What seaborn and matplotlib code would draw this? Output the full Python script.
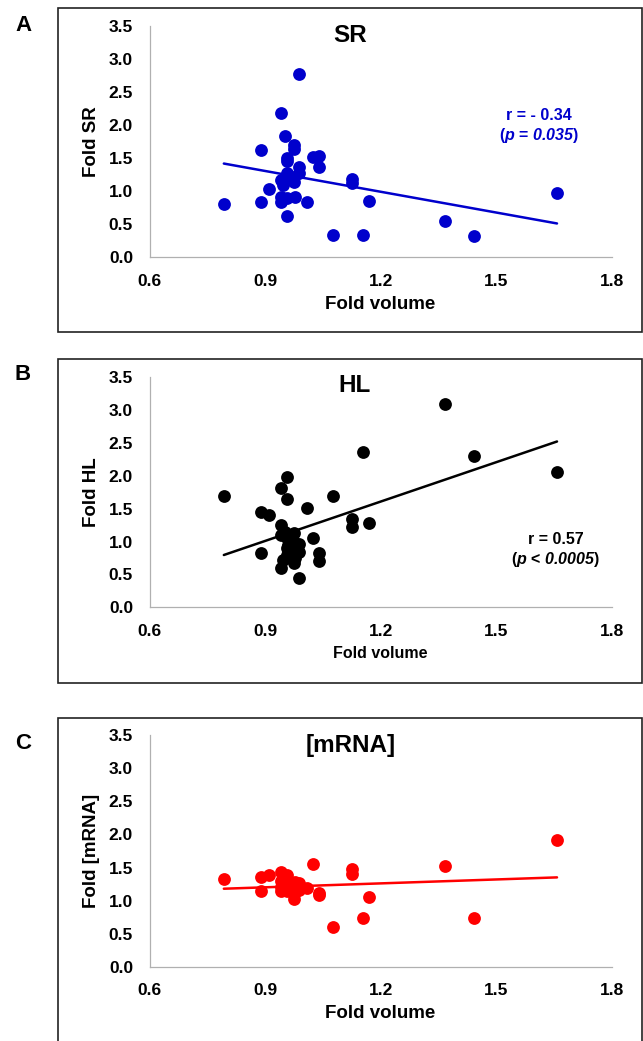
import numpy as np
import pandas as pd
import seaborn as sns
import matplotlib.pyplot as plt
from matplotlib.patches import Rectangle

sns.set_style("white")
plt.rcParams['font.family'] = 'Liberation Sans'
plt.rcParams['text.color'] = 'black'
plt.rcParams['axes.labelcolor'] = 'black'
plt.rcParams['mathtext.fontset'] = 'custom'
# only the p-value annotations use mathtext: everything italic bold
plt.rcParams['mathtext.it'] = 'Liberation Sans:italic:bold'
plt.rcParams['mathtext.rm'] = 'Liberation Sans:italic:bold'

# Data
fold_volume = [0.793, 0.890, 0.890, 0.910, 0.942, 0.942, 0.942, 0.942, 0.946, 0.951,
               0.957, 0.957, 0.957, 0.957, 0.957, 0.960, 0.974, 0.974, 0.974, 0.974,
               0.978, 0.989, 0.989, 0.989, 1.010, 1.025, 1.040, 1.040, 1.076, 1.125,
               1.125, 1.155, 1.170, 1.367, 1.442, 1.658]
fold_sr = [0.81, 1.63, 0.84, 1.04, 2.18, 1.17, 0.92, 0.84, 1.09, 1.83,
           1.50, 1.45, 1.27, 0.90, 0.62, 1.20, 1.70, 1.64, 1.22, 1.14,
           0.92, 2.77, 1.37, 1.28, 0.84, 1.52, 1.53, 1.37, 0.34, 1.18,
           1.12, 0.33, 0.85, 0.545, 0.32, 0.97]
fold_hl = [1.70, 1.45, 0.83, 1.41, 1.81, 1.25, 1.10, 0.60, 0.72, 1.15,
           1.98, 1.65, 1.05, 0.90, 0.80, 0.95, 1.13, 1.00, 0.85, 0.68,
           0.75, 0.96, 0.84, 0.44, 1.51, 1.05, 0.82, 0.71, 1.70, 1.35,
           1.22, 2.36, 1.28, 3.10, 2.30, 2.06]
fold_mrna = [1.33, 1.35, 1.14, 1.39, 1.43, 1.29, 1.14, 1.20, 1.25, 1.35,
             1.38, 1.21, 1.15, 1.30, 1.18, 1.24, 1.21, 1.03, 1.10, 1.16,
             1.28, 1.26, 1.16, 1.22, 1.19, 1.56, 1.11, 1.09, 0.60, 1.48,
             1.40, 0.73, 1.06, 1.52, 0.73, 1.91]

x_ticks = [0.6, 0.9, 1.2, 1.5, 1.8]
y_ticks = [0.0, 0.5, 1.0, 1.5, 2.0, 2.5, 3.0, 3.5]

df = pd.DataFrame({"volume": fold_volume, "SR": fold_sr, "HL": fold_hl, "mRNA": fold_mrna})

W, H = 643, 1041
fig = plt.figure(figsize=(W / 100, H / 100), dpi=100)


def frac(x0, y0, x1, y1):
    return [x0 / W, 1 - y1 / H, (x1 - x0) / W, (y1 - y0) / H]


panels = [
    dict(letter="A", col="SR", title="SR", ylabel="Fold SR", color="#0000CC",
         box=(57.8, 8.3, 642, 331.7), axpos=(149.5, 26.0, 611.7, 257.3), letter_y=25.3,
         title_xy=(1.12, 3.36), xlabel_size=13.5,
         stats=["r = - 0.34", r"($p$ = $0.035$)"], stats_xy=(1.611, 2.14, 1.846)),
    dict(letter="B", col="HL", title="HL", ylabel="Fold HL", color="black",
         box=(57.8, 359.3, 642, 683.0), axpos=(149.5, 377.3, 611.7, 607.3), letter_y=375,
         title_xy=(1.133, 3.37), xlabel_size=11.5,
         stats=["r = 0.57", r"($p$ < $0.0005$)"], stats_xy=(1.654, 1.035, 0.73)),
    dict(letter="C", col="mRNA", title="[mRNA]", ylabel="Fold [mRNA]", color="#FF0000",
         box=(57.8, 718.0, 642, 1050), axpos=(149.5, 735.3, 611.7, 966.7), letter_y=743.3,
         title_xy=(1.122, 3.35), xlabel_size=13.5, stats=None, stats_xy=None),
]

for p in panels:
    # panel frame
    x0, y0, x1, y1 = p["box"]
    fig.patches.append(Rectangle((x0 / W, 1 - y1 / H), (x1 - x0) / W, (y1 - y0) / H,
                                 transform=fig.transFigure, fill=False,
                                 ec="#222222", lw=1.2))
    fig.text(23 / W, 1 - p["letter_y"] / H, p["letter"], fontsize=16,
             fontweight="bold", ha="center", va="center")

    ax = fig.add_axes(frac(*p["axpos"]))
    sns.regplot(data=df, x="volume", y=p["col"], ax=ax, ci=None, truncate=True,
                color=p["color"],
                scatter_kws=dict(s=85, linewidths=0, alpha=1),
                line_kws=dict(lw=1.8))

    ax.set_xlim(0.6, 1.8)
    ax.set_ylim(0, 3.5)
    ax.set_xticks(x_ticks)
    ax.set_yticks(y_ticks)
    ax.set_xticklabels([f"{t:.1f}" for t in x_ticks], fontweight="bold", fontsize=12.5)
    ax.set_yticklabels([f"{t:.1f}" for t in y_ticks], fontweight="bold", fontsize=12.5)
    for s in ["top", "right"]:
        ax.spines[s].set_visible(False)
    for s in ["left", "bottom"]:
        ax.spines[s].set_color("#b0b0b0")
        ax.spines[s].set_linewidth(0.9)
    ax.tick_params(axis="both", direction="out", width=0.9, length=4.3,
                   color="#b0b0b0", labelcolor="black")
    ax.tick_params(axis="x", pad=7.5)
    ax.tick_params(axis="y", pad=7.5)

    ax.set_xlabel("Fold volume", fontsize=p["xlabel_size"], fontweight="bold")
    ax.xaxis.label.set_va("center")
    ax.xaxis.set_label_coords(0.5, -0.202)
    ax.set_ylabel(p["ylabel"], fontsize=13.5, fontweight="bold")
    ax.yaxis.label.set_va("center")
    ax.yaxis.set_label_coords(-0.125, 0.5)

    ax.text(p["title_xy"][0], p["title_xy"][1], p["title"], fontsize=17.5,
            fontweight="bold", ha="center", va="center")

    if p["stats"]:
        sx, sy1, sy2 = p["stats_xy"]
        ax.text(sx, sy1, p["stats"][0], fontsize=11.5, fontweight="bold",
                color=p["color"], ha="center", va="center")
        ax.text(sx, sy2, p["stats"][1], fontsize=11.5, fontweight="bold",
                color=p["color"], ha="center", va="center")

fig.savefig("out.png", dpi=100)
